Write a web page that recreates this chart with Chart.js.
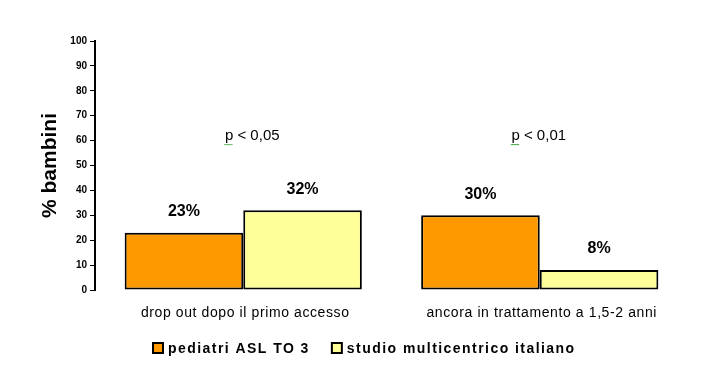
<!DOCTYPE html>
<html>
<head>
<meta charset="utf-8">
<script src="https://cdn.jsdelivr.net/npm/chart.js@4/dist/chart.umd.min.js"></script>
<style>
html,body{margin:0;padding:0;background:#fff;}
#wrap{width:705px;height:370px;position:relative;}
</style>
</head>
<body>
<div id="wrap"><canvas id="c" width="705" height="370"></canvas></div>
<script>
const categories = ["drop out dopo il primo accesso", "ancora in trattamento a 1,5-2 anni"];
const seriesNames = ["pediatri ASL TO 3", "studio multicentrico italiano"];
const pediatriASL = [23, 30];
const studioMulticentrico = [32, 8];
const pValueLabels = ["p < 0,05", "p < 0,01"];
const yTitle = "% bambini";

const FONT = "'Liberation Sans', Arial, sans-serif";

const overlay = {
  id: 'overlay',
  afterDatasetsDraw(chart) {
    const ctx = chart.ctx;
    const xs = chart.scales.x, ys = chart.scales.y;
    ctx.save();
    ctx.textAlign = 'center';
    ctx.textBaseline = 'middle';
    // category labels
    ctx.fillStyle = '#000';
    ctx.font = '14px ' + FONT;
    ctx.letterSpacing = '0.6px';
    chart.data.labels.forEach((lab, i) => {
      ctx.fillText(lab, xs.getPixelForValue(i) + 2, ys.bottom + 23);
    });
    ctx.letterSpacing = '0px';
    // value labels
    ctx.font = 'bold 16px ' + FONT;
    chart.data.datasets.forEach((ds, di) => {
      const meta = chart.getDatasetMeta(di);
      meta.data.forEach((bar, i) => {
        ctx.fillText(ds.data[i] + '%', bar.x, bar.y - 21);
      });
    });
    // p-values
    ctx.font = '15px ' + FONT;
    const offs = [9, -1];
    pValueLabels.forEach((t, i) => {
      const cx = xs.getPixelForValue(i) + offs[i];
      const cy = ys.getPixelForValue(62);
      ctx.fillStyle = '#000';
      ctx.fillText(t, cx, cy);
      // spell-check squiggle under "p"
      const w = ctx.measureText(t).width;
      const px = cx - w / 2;
      ctx.strokeStyle = '#2e9e2e';
      ctx.lineWidth = 1;
      ctx.beginPath();
      for (let k = 0; k <= 8; k++) {
        const x = px - 1 + k;
        const y = cy + 8 + (k % 2 ? 1 : 0);
        k === 0 ? ctx.moveTo(x + 0.5, y + 0.5) : ctx.lineTo(x + 0.5, y + 0.5);
      }
      ctx.stroke();
    });
    // y title
    ctx.fillStyle = '#000';
    ctx.font = 'bold 21px ' + FONT;
    ctx.translate(50, (ys.top + ys.bottom) / 2);
    ctx.rotate(-Math.PI / 2);
    ctx.fillText(yTitle, 0, 0);
    ctx.restore();

    // legend
    ctx.save();
    ctx.font = 'bold 14px ' + FONT;
    ctx.letterSpacing = '1.45px';
    ctx.textAlign = 'left';
    ctx.textBaseline = 'middle';
    const ly = 348;
    const box = 10, gapBox = 5, gapItem = 22;
    const widths = chart.data.datasets.map(ds => ctx.measureText(ds.label).width);
    let x = 153;
    chart.data.datasets.forEach((ds, i) => {
      ctx.fillStyle = ds.backgroundColor;
      ctx.fillRect(x, ly - box / 2, box, box);
      ctx.strokeStyle = '#000';
      ctx.lineWidth = 2;
      ctx.strokeRect(x, ly - box / 2, box, box);
      ctx.fillStyle = '#000';
      ctx.fillText(ds.label, x + box + gapBox, ly + 1);
      x += box + gapBox + widths[i] + gapItem;
    });
    ctx.restore();
  }
};

new Chart(document.getElementById('c'), {
  type: 'bar',
  data: {
    labels: categories,
    datasets: [
      { label: seriesNames[0], data: pediatriASL, backgroundColor: '#FF9900', borderColor: '#000', borderWidth: 2, borderSkipped: false },
      { label: seriesNames[1], data: studioMulticentrico, backgroundColor: '#FFFF99', borderColor: '#000', borderWidth: 2, borderSkipped: false }
    ]
  },
  options: {
    responsive: false,
    animation: false,
    devicePixelRatio: 1,
    layout: { padding: { top: 41, right: 17, left: 0, bottom: 40 } },
    plugins: { legend: { display: false }, tooltip: { enabled: false } },
    datasets: { bar: { categoryPercentage: 0.8, barPercentage: 1.0 } },
    scales: {
      x: {
        grid: { display: false },
        border: { display: false },
        ticks: { display: false },
        afterFit(s) { s.height = 40; }
      },
      y: {
        min: 0, max: 100,
        ticks: { stepSize: 10, color: '#000', font: { family: FONT, size: 10, weight: 'bold' }, padding: 3 },
        grid: { drawOnChartArea: false, drawTicks: true, tickLength: 5, color: '#000', lineWidth: 1 },
        border: { display: true, color: '#000', width: 2 },
        afterFit(s) { s.width = 95; }
      }
    }
  },
  plugins: [overlay]
});
</script>
</body>
</html>
